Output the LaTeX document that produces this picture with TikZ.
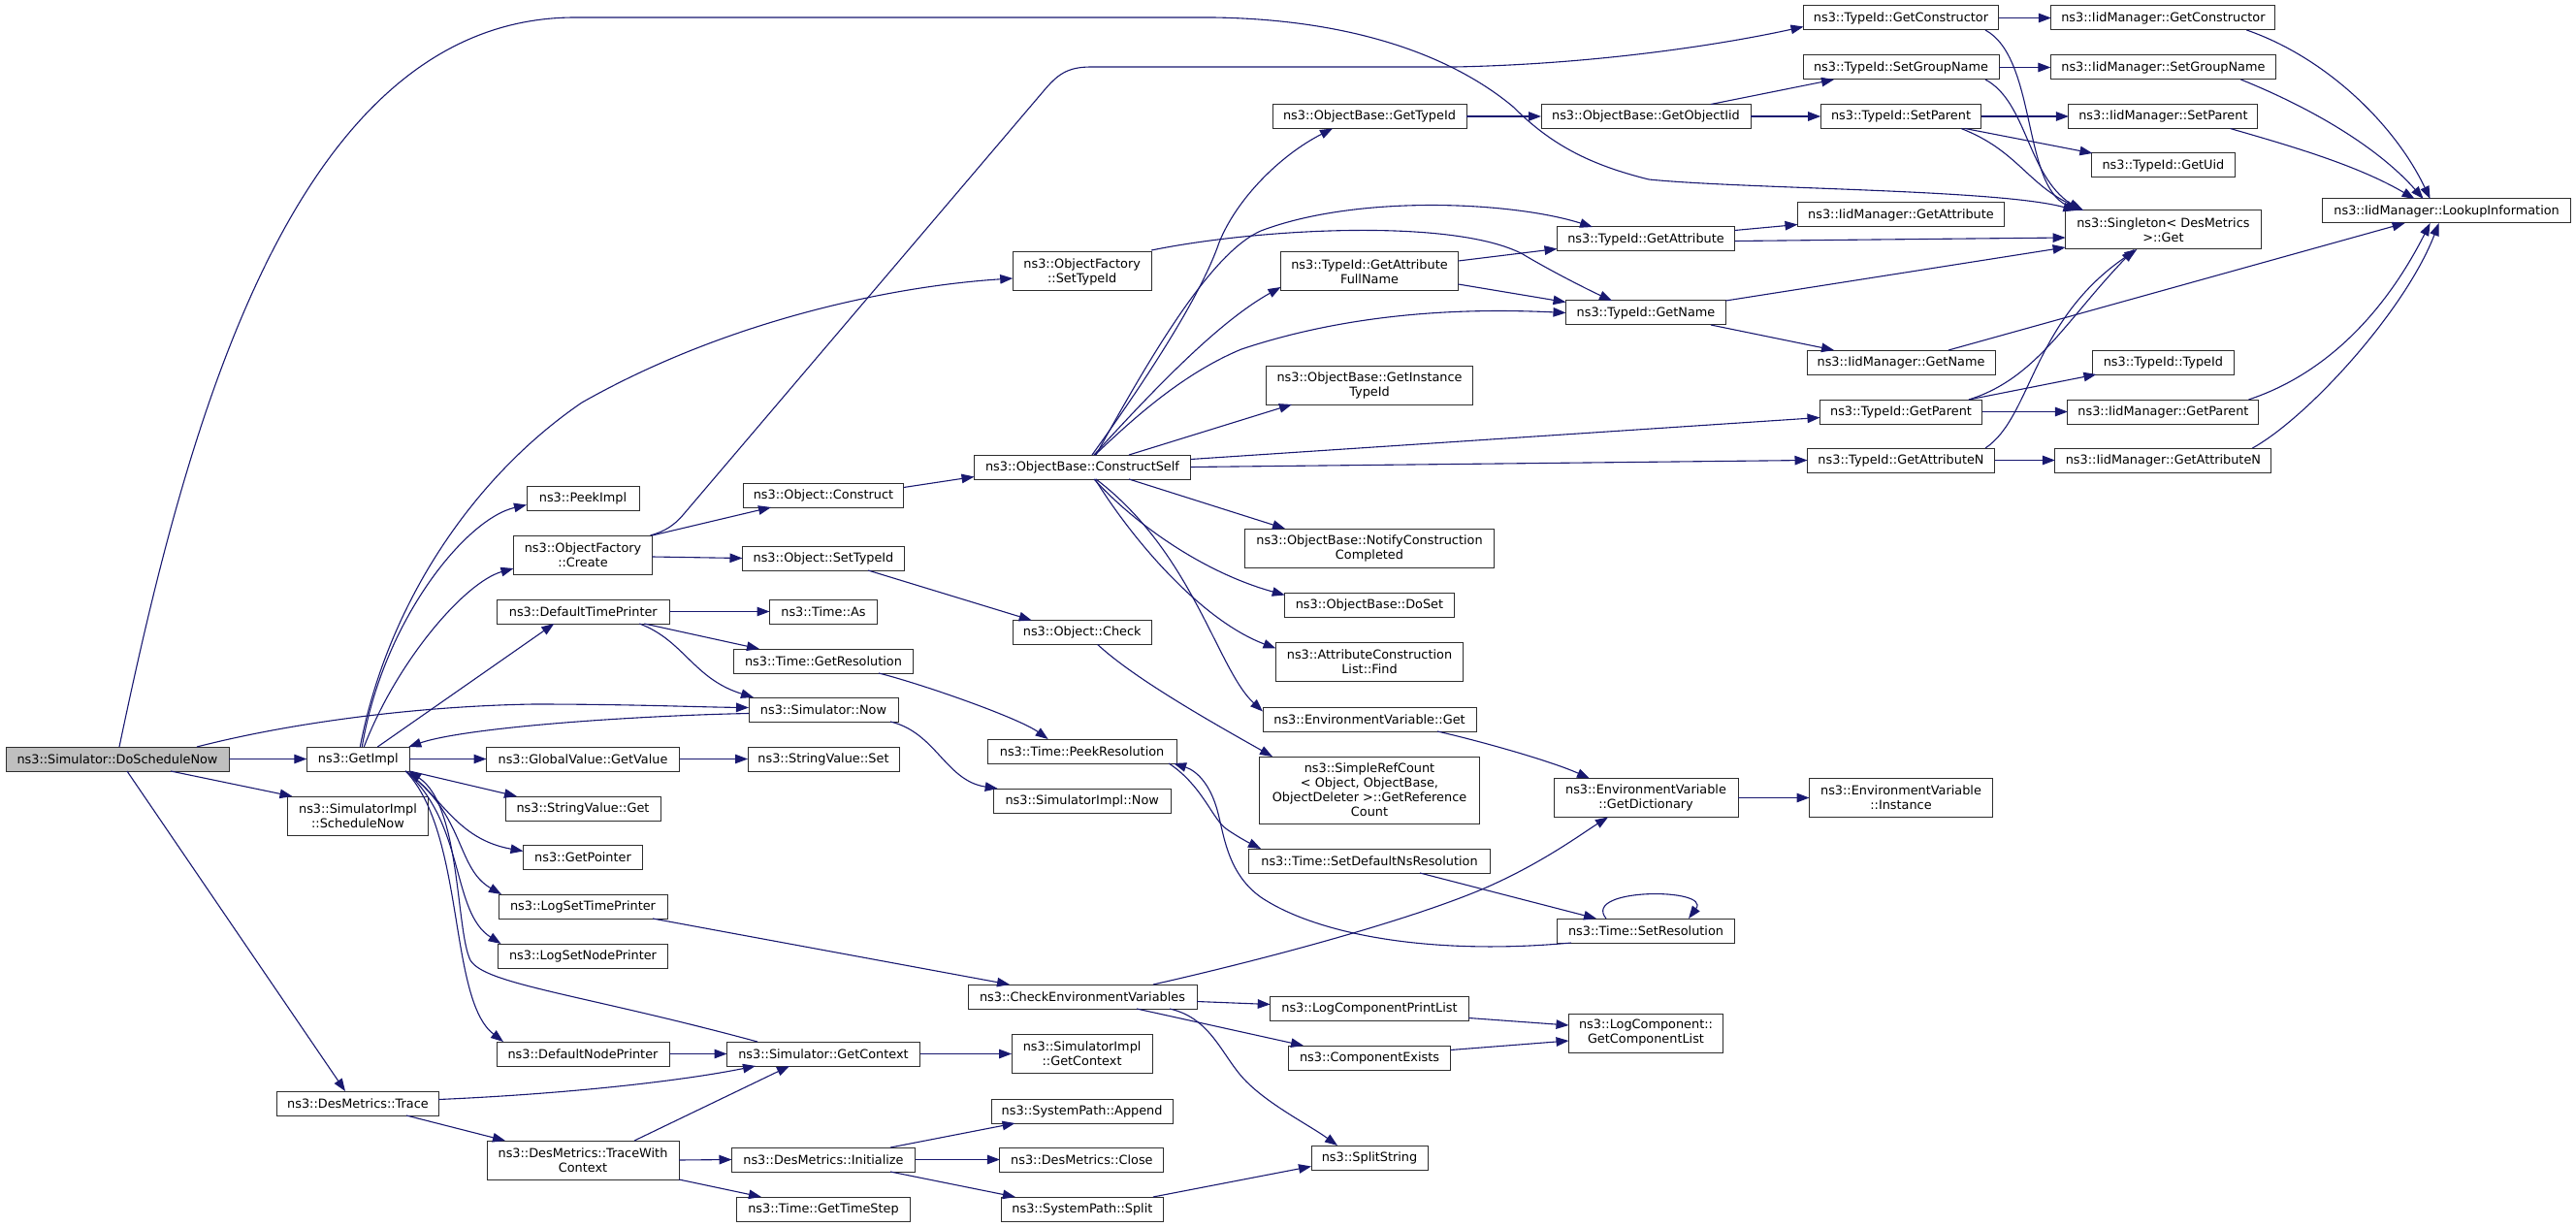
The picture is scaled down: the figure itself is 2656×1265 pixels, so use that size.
\documentclass[tikz,border=0pt]{standalone}
\usepackage{fontspec}
\setmainfont{DejaVu Sans}
\usetikzlibrary{arrows.meta}
\definecolor{edgeblue}{HTML}{191970}
\definecolor{boxgray}{HTML}{2E2E2E}
\definecolor{startgray}{HTML}{BFBFBF}
\begin{document}
\begin{tikzpicture}[x=1pt,y=-1pt,
  box/.style={rectangle, draw=boxgray, fill=white, line width=1pt, text=black,
    font=\fontsize{12.85}{15}\selectfont, inner xsep=3pt, inner ysep=2pt,
    outer sep=0pt, align=center, minimum height=25pt},
  boxtwo/.style={box, minimum height=40pt},
  e/.style={draw=edgeblue, line width=1.1pt, -{Triangle[length=13pt,width=9.5pt]}}]
\useasboundingbox (0,0) rectangle (2656,1265);
% nodes
\node[box,minimum width=230pt,fill=startgray] (n0) at (121,782.5) {ns3::Simulator::DoScheduleNow};
\node[box,minimum width=106pt] (n1) at (369.3,782.5) {ns3::GetImpl};
\node[boxtwo,minimum width=145pt] (n2) at (369,841) {ns3::SimulatorImpl\\::ScheduleNow};
\node[box,minimum width=166.5pt] (n3) at (369,1137.5) {ns3::DesMetrics::Trace};
\node[box,minimum width=116pt] (n4) at (601,513.5) {ns3::PeekImpl};
\node[boxtwo,minimum width=143pt] (n5) at (601,572) {ns3::ObjectFactory\\::Create};
\node[box,minimum width=178pt] (n6) at (601.3,630.5) {ns3::DefaultTimePrinter};
\node[box,minimum width=199pt] (n7) at (601,782.5) {ns3::GlobalValue::GetValue};
\node[box,minimum width=160pt] (n8) at (601,833.5) {ns3::StringValue::Get};
\node[box,minimum width=123pt] (n9) at (601,883.5) {ns3::GetPointer};
\node[box,minimum width=174pt] (n10) at (601,934.5) {ns3::LogSetTimePrinter};
\node[box,minimum width=175pt] (n11) at (601,985.5) {ns3::LogSetNodePrinter};
\node[box,minimum width=178pt] (n12) at (601,1086.5) {ns3::DefaultNodePrinter};
\node[boxtwo,minimum width=198pt] (n13) at (601,1196) {ns3::DesMetrics::TraceWith\\Context};
\node[boxtwo,minimum width=143pt] (n14) at (1115.7,280) {ns3::ObjectFactory\\::SetTypeId};
\node[box,minimum width=165.5pt] (n15) at (849,510.5) {ns3::Object::Construct};
\node[box,minimum width=167pt] (n16) at (849,575.5) {ns3::Object::SetTypeId};
\node[box,minimum width=111pt] (n17) at (849,630.5) {ns3::Time::As};
\node[box,minimum width=185.5pt] (n18) at (849,681.5) {ns3::Time::GetResolution};
\node[box,minimum width=154pt] (n19) at (849,731.5) {ns3::Simulator::Now};
\node[box,minimum width=156pt] (n20) at (849,782.5) {ns3::StringValue::Set};
\node[box,minimum width=199pt] (n21) at (849,1086.5) {ns3::Simulator::GetContext};
\node[box,minimum width=189pt] (n22) at (849,1195.5) {ns3::DesMetrics::Initialize};
\node[box,minimum width=179pt] (n23) at (849,1246.5) {ns3::Time::GetTimeStep};
\node[box,minimum width=223pt] (n24) at (1116,481.5) {ns3::ObjectBase::ConstructSelf};
\node[box,minimum width=143pt] (n25) at (1115.7,652) {ns3::Object::Check};
\node[box,minimum width=195pt] (n26) at (1115.6,774.5) {ns3::Time::PeekResolution};
\node[box,minimum width=183pt] (n27) at (1115.7,825.5) {ns3::SimulatorImpl::Now};
\node[box,minimum width=236pt] (n28) at (1116,1027.5) {ns3::CheckEnvironmentVariables};
\node[boxtwo,minimum width=145pt] (n29) at (1115.6,1086.5) {ns3::SimulatorImpl\\::GetContext};
\node[box,minimum width=187pt] (n30) at (1115.6,1145.5) {ns3::SystemPath::Append};
\node[box,minimum width=169pt] (n31) at (1115.4,1195.5) {ns3::DesMetrics::Close};
\node[box,minimum width=167pt] (n32) at (1115.9,1246.5) {ns3::SystemPath::Split};
\node[box,minimum width=200pt] (n33) at (1412,120) {ns3::ObjectBase::GetTypeId};
\node[boxtwo,minimum width=183pt] (n34) at (1412,280) {ns3::TypeId::GetAttribute\\FullName};
\node[boxtwo,minimum width=213pt] (n35) at (1412,397) {ns3::ObjectBase::GetInstance\\TypeId};
\node[boxtwo,minimum width=257.5pt] (n36) at (1412,565) {ns3::ObjectBase::NotifyConstruction\\Completed};
\node[box,minimum width=174.5pt] (n37) at (1412,623.5) {ns3::ObjectBase::DoSet};
\node[boxtwo,minimum width=193pt] (n38) at (1412,682.5) {ns3::AttributeConstruction\\List::Find};
\node[box,minimum width=220pt] (n39) at (1412,741.5) {ns3::EnvironmentVariable::Get};
\node[box,minimum width=227pt,minimum height=69pt] (n40) at (1412,814.5) {ns3::SimpleRefCount\\< Object, ObjectBase,\\ObjectDeleter >::GetReference\\Count};
\node[box,minimum width=248.5pt] (n41) at (1412,887.5) {ns3::Time::SetDefaultNsResolution};
\node[box,minimum width=204.5pt] (n42) at (1412,1039.5) {ns3::LogComponentPrintList};
\node[box,minimum width=167pt] (n43) at (1412,1090.5) {ns3::ComponentExists};
\node[box,minimum width=120pt] (n44) at (1412,1193.5) {ns3::SplitString};
\node[box,minimum width=216pt] (n45) at (1697,120) {ns3::ObjectBase::GetObjectIid};
\node[box,minimum width=183pt] (n46) at (1697,246.5) {ns3::TypeId::GetAttribute};
\node[box,minimum width=165pt] (n47) at (1697,322.5) {ns3::TypeId::GetName};
\node[boxtwo,minimum width=190pt] (n48) at (1697,822.5) {ns3::EnvironmentVariable\\::GetDictionary};
\node[box,minimum width=183pt] (n49) at (1697,959.5) {ns3::Time::SetResolution};
\node[boxtwo,minimum width=159pt] (n50) at (1697,1065) {ns3::LogComponent::\\GetComponentList};
\node[box,minimum width=201pt] (n51) at (1960,18.5) {ns3::TypeId::GetConstructor};
\node[box,minimum width=202pt] (n52) at (1960,69.5) {ns3::TypeId::SetGroupName};
\node[box,minimum width=165.6pt] (n53) at (1960,120) {ns3::TypeId::SetParent};
\node[box,minimum width=213pt] (n54) at (1960,221.5) {ns3::IidManager::GetAttribute};
\node[box,minimum width=194pt] (n55) at (1960,373.5) {ns3::IidManager::GetName};
\node[box,minimum width=167pt] (n56) at (1960,424.5) {ns3::TypeId::GetParent};
\node[box,minimum width=193pt] (n57) at (1960,474.5) {ns3::TypeId::GetAttributeN};
\node[boxtwo,minimum width=189pt] (n58) at (1960,822.5) {ns3::EnvironmentVariable\\::Instance};
\node[box,minimum width=231pt] (n59) at (2230.4,18.5) {ns3::IidManager::GetConstructor};
\node[box,minimum width=232pt] (n60) at (2230.4,69.5) {ns3::IidManager::SetGroupName};
\node[box,minimum width=195pt] (n61) at (2230.4,120) {ns3::IidManager::SetParent};
\node[box,minimum width=148pt] (n62) at (2230.4,170.5) {ns3::TypeId::GetUid};
\node[boxtwo,minimum width=201.6pt] (n63) at (2230.4,237) {ns3::Singleton< DesMetrics\\>::Get};
\node[box,minimum width=145.6pt] (n64) at (2230.4,373.5) {ns3::TypeId::TypeId};
\node[box,minimum width=197pt] (n65) at (2230.4,424.5) {ns3::IidManager::GetParent};
\node[box,minimum width=223pt] (n66) at (2230.4,474.5) {ns3::IidManager::GetAttributeN};
\node[box,minimum width=256.6pt] (n67) at (2522.6,217.5) {ns3::IidManager::LookupInformation};
% edges from DoScheduleNow
\draw[e] (n0.east) -- (n1.west);
\draw[e] ([xshift=55pt]n0.south) -- ([xshift=5pt]n2.north west);
\draw[e] ([xshift=10pt]n0.south) -- ([xshift=-13pt]n3.north);
\draw[e] ([xshift=82pt]n0.north) .. controls (300,745) and (430,728) .. (550,726) .. controls (650,726) and (720,729) .. ([yshift=2pt]n19.west);
\draw[e] ([xshift=2pt]n0.north) .. controls (190,450) and (300,18) .. (593,18) -- (1250,18) .. controls (1400,20) and (1500,60) .. (1560,110) .. controls (1600,150) and (1640,170) .. (1700,185) .. controls (1800,195) and (2060,195) .. ([xshift=-90pt]n63.north);
% GetImpl
\draw[e] ([xshift=4pt]n1.north) .. controls (395,640) and (480,535) .. ([yshift=-7pt]n4.west);
\draw[e] ([xshift=6pt]n1.north) .. controls (410,680) and (480,600) .. ([yshift=-14pt]n5.west);
\draw[e] ([xshift=20pt]n1.north) -- ([xshift=-30pt]n6.south);
\draw[e] (n1.east) -- (n7.west);
\draw[e] (n1.south east) -- ([xshift=12pt]n8.north west);
\draw[e] ([xshift=-4pt]n1.south east) .. controls (455,820) and (470,865) .. ([yshift=6pt]n9.west);
\draw[e] ([xshift=-4pt]n1.south east) .. controls (480,840) and (470,895) .. ([xshift=3pt]n10.north west);
\draw[e] ([xshift=-4pt]n1.south east) .. controls (480,850) and (465,940) .. ([xshift=3pt]n11.north west);
\draw[e] ([xshift=-4pt]n1.south east) .. controls (480,860) and (462,1030) .. ([xshift=7pt]n12.north west);
\draw[e] ([xshift=2pt]n1.north) .. controls (400,620) and (490,490) .. (600,415) .. controls (750,330) and (920,295) .. ([yshift=-7pt]n14.west);
\draw[e] ([yshift=-4pt]n19.west) .. controls (650,738) and (480,750) .. ([xshift=-1pt]n1.north east);
\draw[e] ([xshift=-68pt]n21.north) .. controls (600,1025) and (500,1015) .. (485,990) .. controls (470,960) and (475,830) .. ([xshift=-1pt]n1.south east);
% ObjectFactory::Create
\draw[e] (n5.north east) -- ([xshift=-54pt]n15.south);
\draw[e] ([yshift=-2pt]n5.east) -- (n16.west);
\draw[e] ([xshift=-2pt]n5.north east) .. controls (685,548) and (695,542) .. (705,530) -- (1075,95) .. controls (1090,77) and (1100,69) .. (1125,69) -- (1500,69) .. controls (1650,66) and (1780,45) .. ([yshift=-9pt]n51.west);
% DefaultTimePrinter
\draw[e] (n6.east) -- (n17.west);
\draw[e] ([xshift=63pt]n6.south) -- ([xshift=-66pt]n18.north);
\draw[e] ([xshift=58pt]n6.south) .. controls (705,660) and (715,700) .. ([xshift=-72pt]n19.north);
\draw[e] (n7.east) -- (n20.west);
\draw[e] ([yshift=8pt]n15.east) -- ([yshift=-10pt]n24.west);
\draw[e] ([xshift=46pt]n16.south) -- ([xshift=-52pt]n25.north);
\draw[e] ([xshift=16pt]n25.south) .. controls (1170,700) and (1250,745) .. ([xshift=-100pt]n40.north);
\draw[e] ([xshift=57pt]n18.south) .. controls (950,705) and (1050,740) .. ([xshift=-35pt]n26.north);
\draw[e] ([xshift=69pt]n19.south) .. controls (965,755) and (975,805) .. ([xshift=-87pt]n27.north);
\draw[e] ([yshift=2pt]n14.north east) .. controls (1300,235) and (1500,225) .. (1570,262) .. controls (1600,280) and (1640,300) .. ([xshift=-35pt]n47.north);
% ConstructSelf
\draw[e] ([xshift=10pt]n24.north) .. controls (1190,380) and (1240,300) .. (1257,250) .. controls (1275,205) and (1320,160) .. ([xshift=-38pt]n33.south);
\draw[e] ([xshift=14pt]n24.north) .. controls (1190,360) and (1250,260) .. (1300,238) .. controls (1400,200) and (1560,208) .. ([xshift=-55pt]n46.north);
\draw[e] ([xshift=12pt]n24.north) .. controls (1200,390) and (1260,330) .. ([yshift=-16pt]n34.west);
\draw[e] ([xshift=13pt]n24.north) .. controls (1170,430) and (1220,385) .. (1280,360) .. controls (1400,320) and (1520,318) .. (n47.west);
\draw[e] ([xshift=48pt]n24.north) -- ([xshift=-80pt]n35.south);
\draw[e] ([xshift=48pt]n24.south) -- ([xshift=-87pt]n36.north);
\draw[e] ([xshift=12pt]n24.south) .. controls (1170,540) and (1240,590) .. ([yshift=10pt]n37.west);
\draw[e] ([xshift=13pt]n24.south) .. controls (1170,560) and (1240,640) .. ([yshift=14pt]n38.west);
\draw[e] ([xshift=14pt]n24.south) .. controls (1230,570) and (1255,690) .. ([yshift=8pt]n39.west);
\draw[e] ([yshift=8pt]n24.east) -- ([yshift=-6pt]n56.west);
\draw[e] (n24.east) -- (n57.west);
% type id group
\draw[e] (n33.east) -- (n45.west);
\draw[e] ([xshift=67pt]n45.north) -- ([xshift=-69pt]n52.south);
\draw[e] (n45.east) -- (n53.west);
\draw[e] (n51.east) -- (n59.west);
\draw[e] ([xshift=87pt]n51.south) .. controls (2100,60) and (2085,190) .. ([xshift=-88pt]n63.north);
\draw[e] (n52.east) -- (n60.west);
\draw[e] ([xshift=87pt]n52.south) .. controls (2090,105) and (2090,180) .. ([xshift=-85pt]n63.north);
\draw[e] (n53.east) -- (n61.west);
\draw[e] ([xshift=66pt]n53.south) -- ([xshift=-73pt]n62.north);
\draw[e] ([xshift=62pt]n53.south) .. controls (2080,155) and (2090,190) .. ([xshift=-82pt]n63.north);
\draw[e] ([xshift=86pt]n59.south) .. controls (2400,60) and (2470,130) .. ([xshift=-17pt]n67.north);
\draw[e] ([xshift=80pt]n60.south) .. controls (2380,110) and (2450,150) .. ([xshift=-24pt]n67.north);
\draw[e] ([xshift=69pt]n61.south) .. controls (2360,150) and (2430,170) .. ([xshift=-33pt]n67.north);
\draw[e] ([yshift=9pt]n46.east) -- ([yshift=-10pt]n54.west);
\draw[e] ([yshift=-2pt]n46.east) -- ([yshift=-8pt]n63.west);
\draw[e] ([yshift=11pt]n34.east) -- ([yshift=-10pt]n46.west);
\draw[e] ([yshift=-13pt]n34.east) -- ([yshift=11pt]n47.west);
\draw[e] (n47.north east) -- ([yshift=-18pt]n63.west);
\draw[e] ([xshift=67pt]n47.south) -- ([xshift=-69pt]n55.north);
\draw[e] ([xshift=49pt]n55.north) -- ([xshift=-43pt]n67.south);
\draw[e] ([xshift=70pt]n56.north) -- ([xshift=-69pt]n64.south);
\draw[e] (n56.east) -- (n65.west);
\draw[e] ([xshift=70pt]n56.north) .. controls (2100,390) and (2130,330) .. ([xshift=-30pt]n63.south);
\draw[e] ([xshift=87pt]n57.north) .. controls (2095,430) and (2095,330) .. ([xshift=-27pt]n63.south);
\draw[e] (n57.east) -- (n66.west);
\draw[e] ([xshift=88pt]n65.north) .. controls (2400,385) and (2460,320) .. ([xshift=-17pt]n67.south);
\draw[e] ([xshift=92pt]n66.north) .. controls (2380,430) and (2480,320) .. ([xshift=-8pt]n67.south);
% environment
\draw[e] ([xshift=70pt]n39.south) .. controls (1530,765) and (1600,785) .. ([xshift=-58pt]n48.north);
\draw[e] (n48.east) -- (n58.west);
\draw[e] ([xshift=73pt]n28.north) .. controls (1300,990) and (1450,950) .. (1530,916) .. controls (1590,890) and (1630,860) .. ([xshift=-39pt]n48.south);
\draw[e] ([yshift=-5pt]n28.east) -- ([yshift=4pt]n42.west);
\draw[e] ([xshift=56pt]n28.south) -- ([xshift=-68pt]n43.north);
\draw[e] ([xshift=90pt]n28.south) .. controls (1250,1050) and (1260,1090) .. (1285,1115) .. controls (1310,1140) and (1350,1160) .. ([xshift=-33pt]n44.north);
\draw[e] ([yshift=-10pt]n42.east) -- ([yshift=8pt]n50.west);
\draw[e] ([yshift=8pt]n43.east) -- ([yshift=-8pt]n50.west);
\draw[e] ([xshift=72pt]n10.south) -- ([xshift=-75pt]n28.north);
% resolution
\draw[e] ([xshift=-8pt]n26.south east) .. controls (1240,810) and (1250,845) .. (1265,855) .. controls (1278,864) and (1290,870) .. ([xshift=-112pt]n41.north);
\draw[e] ([xshift=52pt]n41.south) -- ([xshift=-51pt]n49.north);
\draw[e] ([xshift=-77pt]n49.south) .. controls (1480,985) and (1360,965) .. (1300,925) .. controls (1265,900) and (1262,860) .. (1255,835) .. controls (1248,810) and (1235,795) .. ([xshift=-3pt]n26.south east);
\draw[e] ([xshift=-41pt]n49.north) .. controls (1630,915) and (1765,915) .. ([xshift=44pt]n49.north);
% context / trace
\draw[e] (n12.east) -- (n21.west);
\draw[e] (n21.east) -- (n29.west);
\draw[e] ([yshift=4pt]n3.east) .. controls (580,1128) and (700,1115) .. ([xshift=-70pt]n21.south);
\draw[e] ([xshift=50pt]n3.south) -- ([xshift=-80pt]n13.north);
\draw[e] ([xshift=53pt]n13.north) -- ([xshift=-35pt]n21.south);
\draw[e] (n13.east) -- (n22.west);
\draw[e] (n13.south east) -- ([xshift=-64pt]n23.north);
\draw[e] ([xshift=69pt]n22.north) -- ([xshift=-69pt]n30.south);
\draw[e] (n22.east) -- (n31.west);
\draw[e] ([xshift=69pt]n22.south) -- ([xshift=-69pt]n32.north);
\draw[e] ([xshift=73pt]n32.north) -- ([yshift=-9pt]n44.west);
\end{tikzpicture}
\end{document}
